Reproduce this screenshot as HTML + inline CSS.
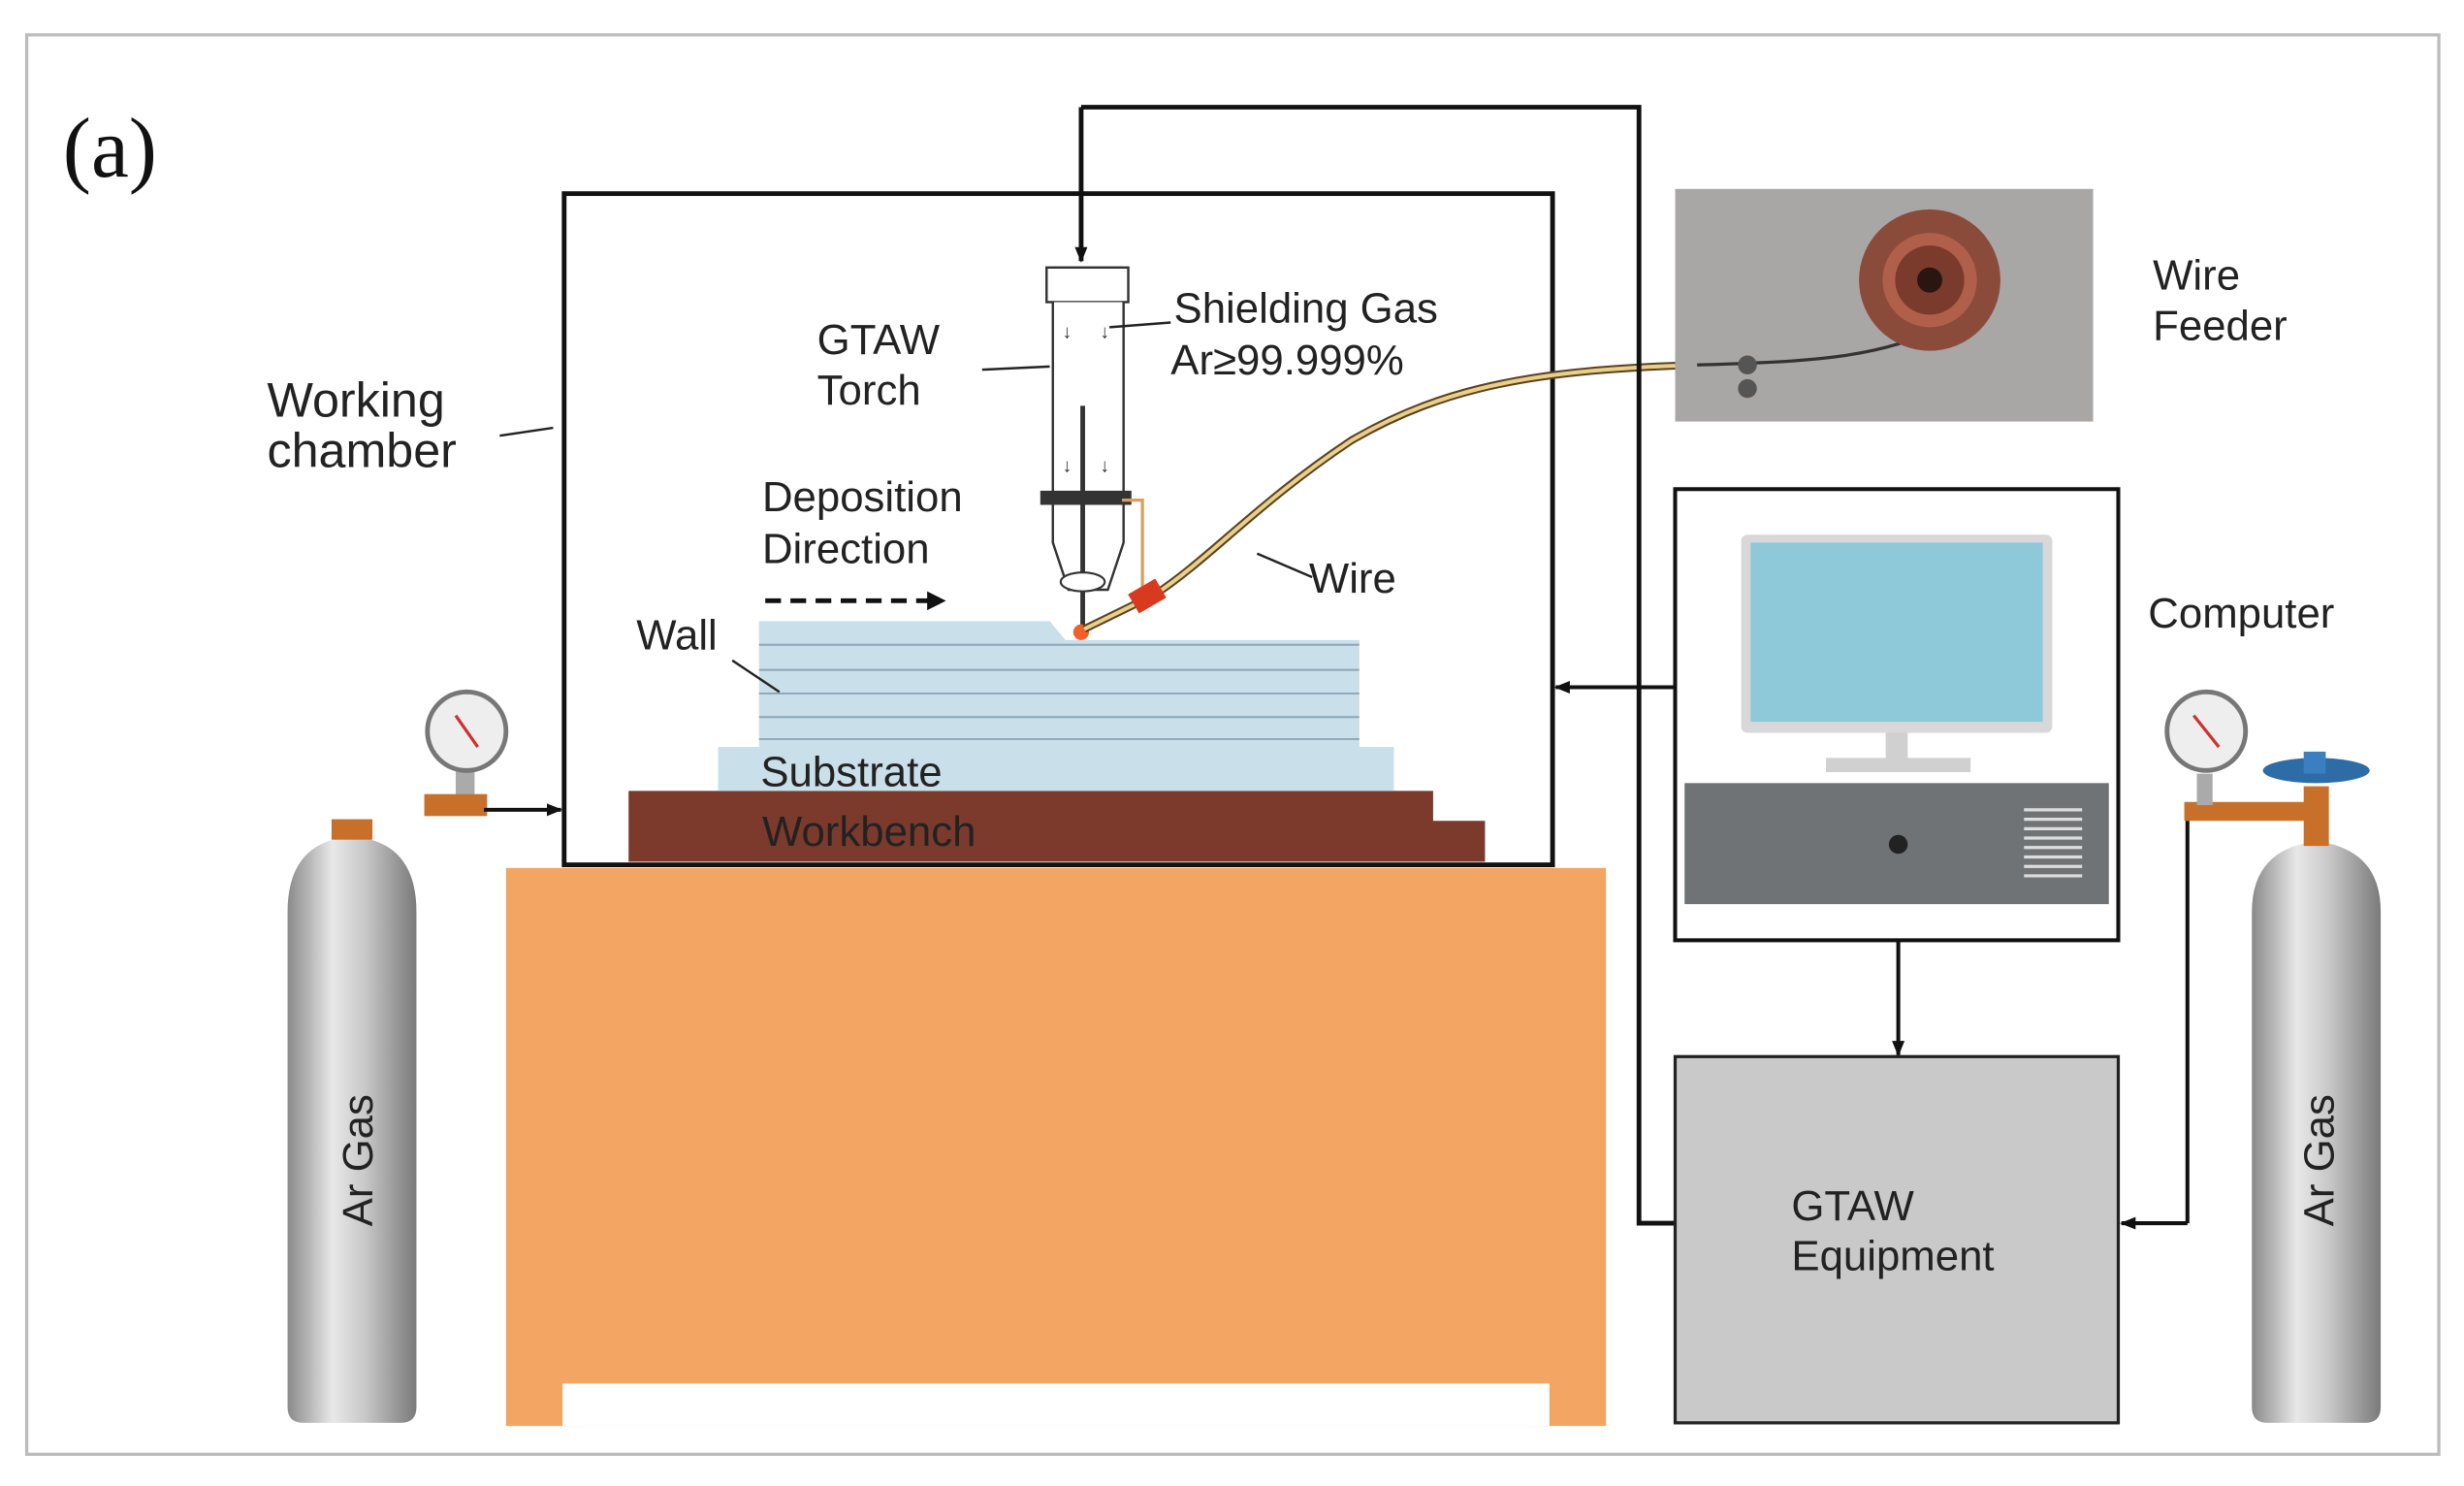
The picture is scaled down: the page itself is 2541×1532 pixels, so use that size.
<!DOCTYPE html>
<html><head><meta charset="utf-8"><style>
html,body{margin:0;padding:0;background:#fff;}
svg{display:block;}
text{font-family:"Liberation Sans",sans-serif;}
</style></head><body>
<svg width="2541" height="1532" viewBox="0 0 1568 945" xmlns="http://www.w3.org/2000/svg">
<defs>
<linearGradient id="cyl" x1="0" x2="1" y1="0" y2="0">
<stop offset="0" stop-color="#8a8a8a"/><stop offset="0.35" stop-color="#e8e8e8"/><stop offset="0.6" stop-color="#c8c8c8"/><stop offset="1" stop-color="#7a7a7a"/>
</linearGradient>
<marker id="ah" markerWidth="10" markerHeight="10" refX="9" refY="5" orient="auto" markerUnits="userSpaceOnUse"><path d="M0,1 L10,5 L0,9 z" fill="#111"/></marker>
</defs>
<rect x="17" y="22" width="1535" height="903" fill="#fff" stroke="#bbb" stroke-width="2"/>
<text x="40" y="112" font-family="Liberation Serif,serif" font-size="54" fill="#111" style="font-family:'Liberation Serif',serif">(a)</text>

<!-- table -->
<rect x="322" y="552" width="700" height="355" fill="#f3a563"/>
<rect x="358" y="880" width="628" height="27" fill="#fff"/>

<!-- chamber -->
<rect x="359" y="123" width="629" height="427" fill="none" stroke="#111" stroke-width="3"/>

<!-- workbench -->
<path d="M400,503 H912 V522 H945 V548 H400 Z" fill="#7b3a2b"/>
<rect x="457" y="475" width="430" height="28" fill="#c9dfe9"/>
<path d="M483,395 H668 L678,407 H690 L700,407 H865 V475 H483 Z" fill="#c9dfe9"/>
<g stroke="#8aa6b8" stroke-width="1.2">
<line x1="483" y1="410" x2="865" y2="410"/><line x1="483" y1="426" x2="865" y2="426"/><line x1="483" y1="441" x2="865" y2="441"/><line x1="483" y1="456" x2="865" y2="456"/><line x1="483" y1="470" x2="865" y2="470"/>
</g>
<text x="484" y="500" font-size="27" fill="#222">Substrate</text>
<text x="485" y="538" font-size="27" fill="#222">Workbench</text>
<text x="405" y="413" font-size="27" fill="#222">Wall</text>
<line x1="466" y1="420" x2="496" y2="440" stroke="#222" stroke-width="1.5"/>

<!-- torch -->
<rect x="666" y="170" width="52" height="22" fill="#fff" stroke="#333" stroke-width="1.5"/>
<path d="M670,192 V345 L680,375 H705 L715,345 V192" fill="#fff" stroke="#333" stroke-width="1.5"/>
<rect x="662" y="312" width="58" height="9" fill="#333"/>
<line x1="689" y1="258" x2="689" y2="400" stroke="#333" stroke-width="3"/>
<ellipse cx="689" cy="370" rx="14" ry="6" fill="#fff" stroke="#333" stroke-width="1.3"/>
<path d="M714,318 H727 V375" fill="none" stroke="#d8a060" stroke-width="2"/>
<circle cx="688" cy="402" r="5" fill="#f2602a"/>
<text x="676" y="215" font-size="12" fill="#333">↓</text><text x="700" y="215" font-size="12" fill="#333">↓</text>
<text x="676" y="300" font-size="12" fill="#333">↓</text><text x="700" y="300" font-size="12" fill="#333">↓</text>

<!-- wire cable -->
<path d="M690,400 L735,378 C770,355 800,320 860,280 C920,245 980,235 1080,232 C1150,230 1200,228 1240,205" fill="none" stroke="#5a4020" stroke-width="5"/>
<path d="M690,400 L735,378 C770,355 800,320 860,280 C920,245 980,235 1080,232 C1150,230 1200,228 1240,205" fill="none" stroke="#e8d08a" stroke-width="2.5"/>
<rect x="720" y="372" width="20" height="14" fill="#d83a20" transform="rotate(-30 730 379)"/>

<!-- wire feeder -->
<rect x="1066" y="120" width="266" height="148" fill="#a9a7a6"/>
<path d="M1080,232 C1150,230 1200,228 1240,205" fill="none" stroke="#333" stroke-width="2"/>
<circle cx="1228" cy="178" r="45" fill="#8b4b3b"/>
<circle cx="1228" cy="178" r="30" fill="#b0604a"/>
<circle cx="1228" cy="178" r="22" fill="#7a3a2c"/>
<circle cx="1228" cy="178" r="8" fill="#2a1510"/>
<circle cx="1112" cy="232" r="6" fill="#555"/><circle cx="1112" cy="247" r="6" fill="#555"/>
<text x="1370" y="184" font-size="27" fill="#222">Wire</text>
<text x="1370" y="216" font-size="27" fill="#222">Feeder</text>

<!-- top connection -->
<path d="M688,68 H1043 V778 H1066" fill="none" stroke="#111" stroke-width="3"/>
<line x1="688" y1="68" x2="688" y2="166" stroke="#111" stroke-width="3" marker-end="url(#ah)"/>

<!-- computer -->
<rect x="1066" y="311" width="282" height="287" fill="#fff" stroke="#111" stroke-width="2.5"/>
<rect x="1108" y="340" width="198" height="126" rx="4" fill="#d8d8d8"/>
<rect x="1114" y="345" width="186" height="114" fill="#8ec9da"/>
<rect x="1200" y="466" width="14" height="18" fill="#d0d0d0"/>
<rect x="1162" y="482" width="92" height="9" fill="#d0d0d0"/>
<rect x="1072" y="498" width="270" height="77" fill="#6f7376"/>
<circle cx="1208" cy="537" r="6" fill="#222"/>
<g stroke="#ddd" stroke-width="2">
<line x1="1288" y1="515" x2="1325" y2="515"/><line x1="1288" y1="521" x2="1325" y2="521"/><line x1="1288" y1="527" x2="1325" y2="527"/><line x1="1288" y1="533" x2="1325" y2="533"/><line x1="1288" y1="539" x2="1325" y2="539"/><line x1="1288" y1="545" x2="1325" y2="545"/><line x1="1288" y1="551" x2="1325" y2="551"/><line x1="1288" y1="557" x2="1325" y2="557"/>
</g>
<text x="1367" y="399" font-size="27" fill="#222">Computer</text>
<line x1="1066" y1="437" x2="990" y2="437" stroke="#111" stroke-width="2.5" marker-end="url(#ah)"/>
<line x1="1208" y1="598" x2="1208" y2="671" stroke="#111" stroke-width="2.5" marker-end="url(#ah)"/>

<!-- GTAW equipment -->
<rect x="1066" y="672" width="282" height="233" fill="#c9c9c9" stroke="#222" stroke-width="2"/>
<text x="1140" y="776" font-size="27" fill="#222">GTAW</text>
<text x="1140" y="808" font-size="27" fill="#222">Equipment</text>

<!-- right cylinder -->
<path d="M1433,580 Q1433,540 1474,535 Q1515,540 1515,580 V895 Q1515,905 1505,905 H1443 Q1433,905 1433,895 Z" fill="url(#cyl)"/>
<rect x="1466" y="500" width="16" height="38" fill="#c8702a"/>
<ellipse cx="1474" cy="490" rx="34" ry="8" fill="#2e6ca8"/>
<rect x="1466" y="478" width="14" height="14" fill="#3a80c0"/>
<rect x="1390" y="510" width="80" height="12" fill="#c8702a"/>
<rect x="1398" y="492" width="10" height="20" fill="#aaa"/>
<circle cx="1404" cy="465" r="25" fill="#eee" stroke="#777" stroke-width="3"/>
<line x1="1396" y1="455" x2="1412" y2="475" stroke="#c33" stroke-width="2"/>
<text transform="translate(1485,780) rotate(-90)" font-size="27" fill="#222">Ar Gas</text>
<path d="M1392,522 V778" fill="none" stroke="#111" stroke-width="2.5"/>
<line x1="1392" y1="778" x2="1350" y2="778" stroke="#111" stroke-width="2.5" marker-end="url(#ah)"/>

<!-- left cylinder -->
<path d="M183,580 Q183,535 224,532 Q265,535 265,580 V895 Q265,905 255,905 H193 Q183,905 183,895 Z" fill="url(#cyl)"/>
<rect x="211" y="521" width="26" height="13" fill="#c8702a"/>
<text transform="translate(237,780) rotate(-90)" font-size="27" fill="#222">Ar Gas</text>
<rect x="290" y="488" width="12" height="20" fill="#aaa"/>
<circle cx="297" cy="465" r="25" fill="#eee" stroke="#777" stroke-width="3"/>
<line x1="290" y1="455" x2="304" y2="475" stroke="#c33" stroke-width="2"/>
<rect x="270" y="505" width="40" height="14" fill="#c8702a"/>
<line x1="308" y1="515" x2="357" y2="515" stroke="#111" stroke-width="2.5" marker-end="url(#ah)"/>

<!-- labels -->
<text x="170" y="265" font-size="31" fill="#222">Working</text>
<text x="170" y="297" font-size="31" fill="#222">chamber</text>
<line x1="318" y1="277" x2="352" y2="272" stroke="#222" stroke-width="1.5"/>
<text x="520" y="225" font-size="27" fill="#222">GTAW</text>
<text x="520" y="257" font-size="27" fill="#222">Torch</text>
<line x1="625" y1="235" x2="668" y2="233" stroke="#222" stroke-width="1.5"/>
<text x="747" y="205" font-size="27" fill="#222">Shielding Gas</text>
<text x="745" y="238" font-size="27" fill="#222">Ar≥99.999%</text>
<line x1="706" y1="208" x2="745" y2="205" stroke="#222" stroke-width="1.5"/>
<text x="485" y="325" font-size="27" fill="#222">Deposition</text>
<text x="485" y="358" font-size="27" fill="#222">Direction</text>
<line x1="487" y1="382" x2="592" y2="382" stroke="#111" stroke-width="3" stroke-dasharray="10,6"/>
<path d="M590,376 L602,382 L590,388 Z" fill="#111"/>
<text x="833" y="377" font-size="27" fill="#222">Wire</text>
<line x1="800" y1="352" x2="835" y2="367" stroke="#222" stroke-width="1.5"/>
</svg>
</body></html>
